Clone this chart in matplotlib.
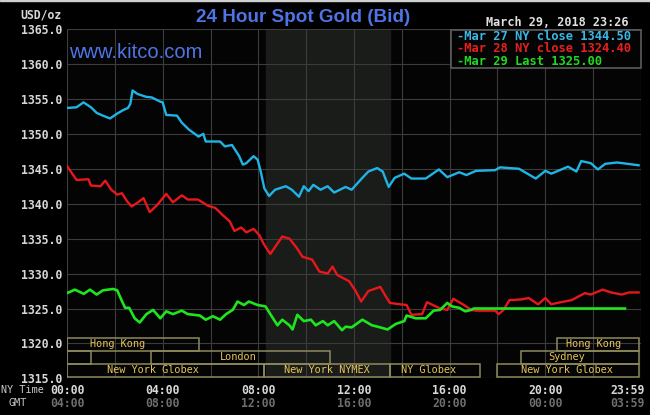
import matplotlib
matplotlib.use("Agg")
import matplotlib.pyplot as plt
import matplotlib.transforms as mtransforms
from matplotlib.patches import Rectangle

# price traces, NY time in hours
cyan_t = [0, 0.4, 0.69, 1.0, 1.24, 1.5, 1.8, 2.1, 2.35, 2.55, 2.65, 2.74, 2.95, 3.3, 3.55, 3.9, 4.0,
          4.15, 4.6, 4.8, 5.1, 5.5, 5.7, 5.8, 6.4, 6.6, 6.9, 7.2, 7.35, 7.5, 7.8, 7.97, 8.1, 8.25,
          8.45, 8.7, 9.15, 9.4, 9.7, 9.9, 10.1, 10.3, 10.6, 10.9, 11.17, 11.65, 11.9, 12.35, 12.6,
          12.97, 13.2, 13.45, 13.7, 14.1, 14.4, 15.0, 15.55, 15.9, 16.4, 16.7, 17.1, 17.9, 18.1,
          18.9, 19.2, 19.6, 20.0, 20.25, 20.95, 21.3, 21.5, 21.9, 22.2, 22.5, 23.0, 23.45, 23.9]
cyan_v = [1353.7, 1353.8, 1354.5, 1353.8, 1353.0, 1352.6, 1352.2, 1352.9, 1353.4, 1353.7, 1354.3, 1356.2,
          1355.7, 1355.3, 1355.2, 1354.6, 1354.5, 1352.7, 1352.6, 1351.6, 1350.6, 1349.6, 1350.0,
          1348.9, 1348.9, 1348.2, 1348.4, 1346.8, 1345.6, 1345.8, 1346.8, 1346.3, 1344.6, 1342.2,
          1341.1, 1342.0, 1342.5, 1342.0, 1341.0, 1342.5, 1341.8, 1342.7, 1342.0, 1342.5, 1341.6,
          1342.4, 1342.0, 1343.7, 1344.6, 1345.1, 1344.6, 1342.4, 1343.7, 1344.3, 1343.6, 1343.6,
          1344.9, 1343.8, 1344.5, 1344.1, 1344.7, 1344.8, 1345.2, 1345.0, 1344.4, 1343.6, 1344.7,
          1344.3, 1345.3, 1344.6, 1346.1, 1345.8, 1344.9, 1345.7, 1345.9, 1345.7, 1345.5]

red_t = [0, 0.4, 0.9, 1.0, 1.4, 1.6, 1.85, 2.1, 2.3, 2.5, 2.7, 2.97, 3.2, 3.46, 3.74, 4.15, 4.43, 4.8,
         5.05, 5.47, 5.9, 6.2, 6.5, 6.8, 7.0, 7.28, 7.5, 7.8, 8.04, 8.25, 8.5, 8.8, 9.0, 9.3, 9.6,
         9.85, 10.25, 10.55, 10.9, 11.1, 11.3, 11.8, 12.07, 12.3, 12.6, 13.1, 13.3, 13.5, 13.95,
         14.2, 14.4, 14.85, 15.05, 15.3, 15.6, 15.9, 16.15, 16.6, 16.9, 17.1, 17.9, 18.05, 18.25,
         18.5, 19.0, 19.3, 19.7, 20.0, 20.25, 20.5, 21.1, 21.65, 21.9, 22.4, 22.75, 23.2, 23.5, 23.9]
red_v = [1345.4, 1343.4, 1343.5, 1342.6, 1342.5, 1343.3, 1342.0, 1341.3, 1341.5, 1340.4, 1339.6, 1340.2,
         1340.8, 1338.8, 1339.7, 1341.4, 1340.2, 1341.2, 1340.6, 1340.6, 1339.7, 1339.4, 1338.4,
         1337.5, 1336.1, 1336.6, 1335.9, 1336.4, 1335.5, 1334.1, 1332.8, 1334.3, 1335.3, 1335.0,
         1333.7, 1332.4, 1332.0, 1330.3, 1330.0, 1331.0, 1329.8, 1328.9, 1327.5, 1326.0, 1327.5,
         1328.1, 1326.9, 1325.8, 1325.6, 1325.5, 1324.1, 1324.2, 1325.9, 1325.5, 1325.0, 1324.8,
         1326.4, 1325.5, 1324.8, 1324.7, 1324.7, 1324.2, 1324.8, 1326.2, 1326.3, 1326.5, 1325.6,
         1326.5, 1325.6, 1325.8, 1326.2, 1327.2, 1327.0, 1327.7, 1327.3, 1327.0, 1327.3, 1327.3]

green_t = [0, 0.33, 0.7, 0.96, 1.24, 1.5, 1.93, 2.1, 2.28, 2.43, 2.6, 2.83, 3.04, 3.32, 3.6, 3.9, 4.15,
           4.43, 4.8, 5.05, 5.55, 5.8, 6.1, 6.4, 6.65, 6.93, 7.13, 7.4, 7.6, 7.97, 8.3, 8.52, 8.8,
           9.0, 9.3, 9.43, 9.63, 9.9, 10.2, 10.4, 10.7, 10.9, 11.17, 11.5, 11.65, 11.9, 12.35,
           12.75, 13.1, 13.4, 13.75, 14.1, 14.2, 14.58, 15.0, 15.33, 15.6, 15.9, 16.1, 16.4, 16.65,
           16.9, 17.0, 23.33]
green_v = [1327.2, 1327.7, 1327.1, 1327.7, 1327.0, 1327.6, 1327.8, 1327.6, 1326.2, 1325.1, 1325.1,
           1323.6, 1323.0, 1324.2, 1324.8, 1323.6, 1324.6, 1324.2, 1324.7, 1324.2, 1324.0, 1323.4,
           1323.9, 1323.4, 1324.2, 1324.8, 1326.0, 1325.5, 1326.0, 1325.5, 1325.3, 1324.1, 1322.6,
           1323.4, 1322.6, 1322.0, 1324.1, 1323.2, 1323.4, 1322.6, 1323.2, 1322.6, 1323.2, 1321.9,
           1322.4, 1322.3, 1323.4, 1322.6, 1322.3, 1322.0, 1322.8, 1323.2, 1324.0, 1323.6, 1323.6,
           1324.7, 1324.8, 1325.8, 1325.3, 1325.1, 1324.6, 1324.8, 1325.0, 1325.0]

legend_labels = ["-Mar 27 NY close 1344.50", "-Mar 28 NY close 1324.40", "-Mar 29 Last 1325.00"]

# trading sessions (row 0 = top)
sess_names = ["Hong Kong", "", "London", "New York Globex", "New York NYMEX", "NY Globex",
              "New York Globex", "Sydney", "Hong Kong"]
sess_start = [0, 0, 3.5, 0, 8.25, 13.5, 18.0, 19.0, 20.5]
sess_end = [5.5, 1.0, 11.0, 8.25, 13.5, 17.25, 23.9, 23.9, 23.9]
sess_row = [0, 1, 1, 2, 2, 2, 2, 1, 0]
sess_label_at = [2.1, 0, 7.15, 3.6, 10.85, 15.1, 20.9, 20.9, 22.0]

ny_ticks = [0, 4, 8, 12, 16, 20, 23.45]
ny_labels = ["00:00", "04:00", "08:00", "12:00", "16:00", "20:00", "23:59"]
gmt_labels = ["04:00", "08:00", "12:00", "16:00", "20:00", "00:00", "03:59"]

W, H = 650, 415
fig = plt.figure(figsize=(6.5, 4.15), dpi=100, facecolor="black")


def fx(px):
    return px / W


def fy(py):
    return 1 - py / H


ax = fig.add_axes([fx(67), fy(378.4), (641 - 67) / W, (378.4 - 29) / H])
ax.set_facecolor("#040404")
ax.set_xlim(0, 24)
ax.set_ylim(1315, 1365)
for s in ax.spines.values():
    s.set_visible(False)

ax.set_xticks(range(0, 25, 2))
ax.set_yticks(range(1315, 1366, 5))
ax.set_yticklabels([f"{v:.1f}" for v in range(1315, 1366, 5)])
ax.tick_params(length=0, labelbottom=False, pad=3.5, labelcolor="#d8d8d8")
for lab in ax.get_yticklabels():
    lab.set_fontfamily("DejaVu Sans Mono")
    lab.set_fontweight("bold")
    lab.set_fontsize(8.3)
ax.grid(True, color="#3c3c3c", lw=0.8)
ax.set_axisbelow(True)

ax.axvspan(8.333, 13.5, color="#1a1c1a", zorder=0.5)

mono = "DejaVu Sans Mono"
ax.plot(cyan_t, cyan_v, color="#1fb4e6", lw=1.7, zorder=3)
ax.plot(red_t, red_v, color="#e8171b", lw=1.7, zorder=3)
ax.plot(green_t, green_v, color="#1ee51e", lw=1.9, zorder=4)

# session boxes
row_h = 1.86
row_top = 1320.79
for name, t0, t1, r, lt in zip(sess_names, sess_start, sess_end, sess_row, sess_label_at):
    y0 = row_top - (r + 1) * row_h
    ax.add_patch(Rectangle((t0, y0), t1 - t0, row_h, fill=False, edgecolor="#8e8a5e",
                           lw=1.1, zorder=2))
    if name:
        ax.text(lt, y0 + row_h / 2, name, color="#e6c35a", fontfamily=mono, fontsize=7.4,
                ha="center", va="center", zorder=2)

# x labels, NY time and GMT
trans = mtransforms.blended_transform_factory(ax.transData, fig.transFigure)
for t, a, b in zip(ny_ticks, ny_labels, gmt_labels):
    ax.text(t, fy(390), a, transform=trans, color="#d8d8d8", fontfamily=mono,
            fontweight="bold", fontsize=8.3, ha="center", va="center", clip_on=False)
    ax.text(t, fy(403), b, transform=trans, color="#6e6e6e", fontfamily=mono,
            fontweight="bold", fontsize=8.3, ha="center", va="center", clip_on=False)
fig.text(fx(1), fy(390), "NY Time", color="#c8c8c8", fontfamily=mono, fontsize=7.3,
         ha="left", va="center")
fig.text(fx(18), fy(403), "GMT", color="#c8c8c8", fontfamily=mono, fontsize=7.3,
         ha="center", va="center")

fig.text(fx(62), fy(15), "USD/oz", color="#d8d8d8", fontfamily=mono, fontweight="bold",
         fontsize=8.3, ha="right", va="center")
fig.text(fx(303.5), fy(18), "24 Hour Spot Gold (Bid)", color="#4f74e6",
         fontfamily="Liberation Sans", fontweight="bold", fontsize=13.6,
         ha="center", va="center")
fig.text(fx(557), fy(23), "March 29, 2018 23:26", color="#e0e0e0", fontfamily=mono,
         fontweight="bold", fontsize=8.5, ha="center", va="center")
ax.text(fx(69), fy(52), "www.kitco.com", transform=fig.transFigure, color="#4f74e6",
        fontfamily="Liberation Sans", fontsize=14.5,
        ha="left", va="center", zorder=5)

# legend box
ax.add_patch(Rectangle((fx(451), fy(68)), fx(641) - fx(451), fy(30) - fy(68),
                       transform=fig.transFigure, facecolor="#040404", edgecolor="#5c5c5c",
                       lw=1.2, zorder=6, clip_on=False))
for i, (lab, col) in enumerate(zip(legend_labels, ["#3ab6e8", "#e42020", "#22d822"])):
    ax.text(fx(457), fy(36 + i * 12.9), lab, transform=fig.transFigure, color=col,
            fontfamily=mono, fontweight="bold", fontsize=8.7, ha="left", va="center", zorder=7)

fig.add_artist(Rectangle((0, fy(1.5)), 1, 1.5 / H, transform=fig.transFigure,
                         color="#d0d0d0"))

fig.savefig("out.png", dpi=100, facecolor="black")
